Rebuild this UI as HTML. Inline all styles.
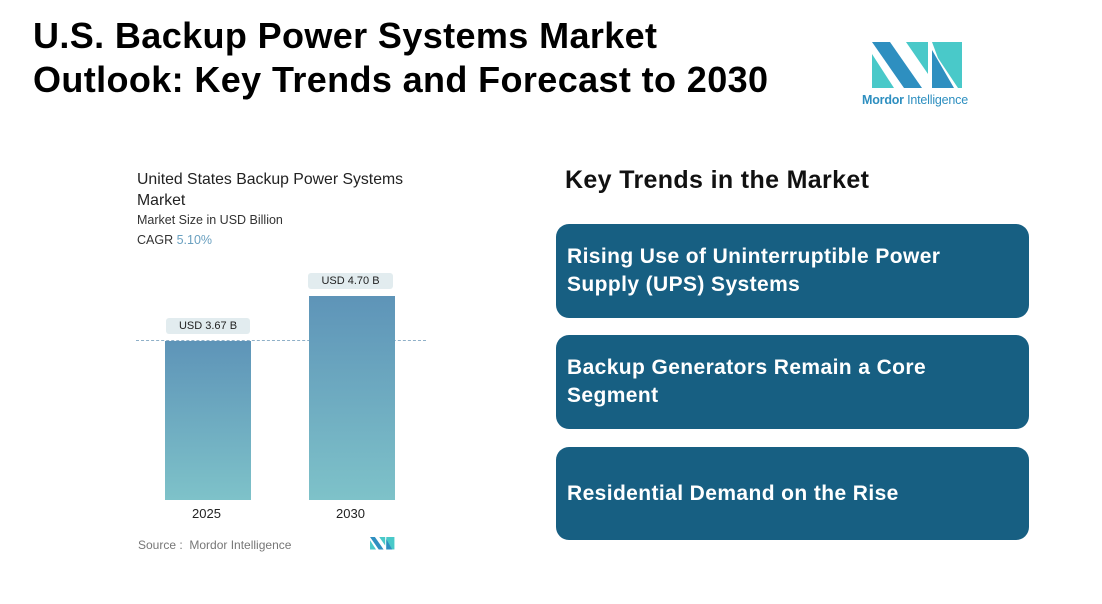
<!DOCTYPE html>
<html><head><meta charset="utf-8"><style>
body{margin:0;width:1102px;height:604px;background:#fff;font-family:"Liberation Sans",sans-serif;position:relative;overflow:hidden}
.a{position:absolute}
h1{position:absolute;left:33px;top:14px;margin:0;font-size:36px;line-height:44px;font-weight:bold;color:#000;letter-spacing:0.38px}
.box{position:absolute;left:556px;width:473px;background:#175f82;border-radius:13px;color:#fff;font-weight:bold;font-size:21px;letter-spacing:0.4px;line-height:28px;padding:0 11px;box-sizing:border-box;display:flex;align-items:center}
.lbl{position:absolute;background:#e2ecef;font-size:11px;color:#222;text-align:center;line-height:16px;border-radius:3px}
.bar{position:absolute;background:linear-gradient(#5e94b8,#7ec2c9)}
</style></head><body>
<h1>U.S. Backup Power Systems Market<br>Outlook: Key Trends and Forecast to 2030</h1>
<svg class="a" style="left:872px;top:42px" width="92" height="48" viewBox="0 0 92 48">
<polygon points="0,0 18,0 50,46 32,46" fill="#2e8fc0"/>
<polygon points="0,12 22,46 0,46" fill="#49c9c9"/>
<polygon points="34,0 56,0 56,32" fill="#49c9c9"/>
<polygon points="60,0 90,0 90,46 60,46 60,24 76,46 86,46 66,16" fill="#49c9c9"/>
<polygon points="60,8 82,46 60,46" fill="#2e8fc0"/>
</svg>
<div class="a" style="left:862px;top:93px;font-size:12.5px;color:#2e8fc0;letter-spacing:-0.2px"><b>Mordor</b> Intelligence</div>
<div class="a" style="left:137px;top:169px;font-size:15.8px;line-height:21px;color:#222">United States Backup Power Systems<br>Market</div>
<div class="a" style="left:137px;top:213px;font-size:12.5px;color:#333">Market Size in USD Billion</div>
<div class="a" style="left:137px;top:233px;font-size:12.5px;color:#333">CAGR <span style="color:#6aa0c0">5.10%</span></div>
<div class="a" style="left:136px;top:340px;width:290px;border-top:1.5px dashed #8fb0c8"></div>
<div class="bar" style="left:165px;top:341px;width:86px;height:159px"></div>
<div class="bar" style="left:309px;top:296px;width:86px;height:204px"></div>
<div class="lbl" style="left:166px;top:318px;width:84px">USD 3.67 B</div>
<div class="lbl" style="left:308px;top:273px;width:85px">USD 4.70 B</div>
<div class="a" style="left:192px;top:506px;font-size:13px;color:#222">2025</div>
<div class="a" style="left:336px;top:506px;font-size:13px;color:#222">2030</div>
<div class="a" style="left:138px;top:538px;font-size:12px;color:#777">Source :&nbsp; Mordor Intelligence</div>
<svg class="a" style="left:370px;top:537px" width="25" height="13" viewBox="0 0 92 48">
<polygon points="0,0 18,0 50,46 32,46" fill="#2e8fc0"/><polygon points="0,12 22,46 0,46" fill="#49c9c9"/>
<polygon points="34,0 56,0 56,32" fill="#49c9c9"/><polygon points="60,0 90,0 90,46 60,46" fill="#49c9c9"/><polygon points="60,8 82,46 60,46" fill="#2e8fc0"/></svg>
<div class="a" style="left:565px;top:166px;font-size:25px;letter-spacing:0.35px;font-weight:bold;color:#111">Key Trends in the Market</div>
<div class="box" style="top:224px;height:94px">Rising Use of Uninterruptible Power<br>Supply (UPS) Systems</div>
<div class="box" style="top:335px;height:94px">Backup Generators Remain a Core<br>Segment</div>
<div class="box" style="top:447px;height:93px">Residential Demand on the Rise</div>
</body></html>
